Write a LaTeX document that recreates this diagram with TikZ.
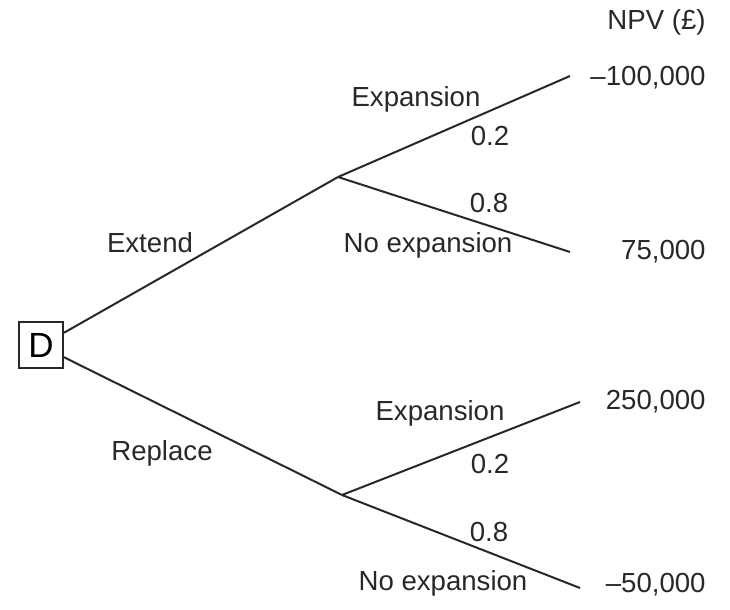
\documentclass[tikz,border=0pt]{standalone}
\usepackage{fontspec}
\setmainfont{Liberation Sans}
\usepackage{tikz}
\usetikzlibrary{positioning,calc}
\definecolor{lineclr}{RGB}{40,40,40}
\tikzset{
  decbox/.style={rectangle,draw=lineclr,line width=1pt,minimum width=22pt,
                 minimum height=23pt,inner sep=0pt,font=\fontsize{17.5}{19}\selectfont},
  branch/.style={draw=lineclr,line width=1pt},
  lbl/.style={inner sep=0pt,font=\fontsize{13.8}{16}\selectfont,text=lineclr},
  val/.style={lbl,anchor=east},
}

\begin{document}
\begin{tikzpicture}[x=0.5pt,y=-0.5pt]
\useasboundingbox (0,0) rectangle (730,610);
% decision node and chance points
\node[decbox] (D) at (41,345) {D};
\coordinate (c1) at (338,177);
\coordinate (c2) at (342,495);
\coordinate (e1) at (570,76);
\coordinate (e2) at (570,252);
\coordinate (e3) at (580,402);
\coordinate (e4) at (580,588);
% branches
\draw[branch] (D.28) -- (c1);
\draw[branch] (D.-28) -- (c2);
\draw[branch] (c1) -- (e1);
\draw[branch] (c1) -- (e2);
\draw[branch] (c2) -- (e3);
\draw[branch] (c2) -- (e4);
% branch labels
\node[lbl] (ext) at (150,243) {Extend};
\node[lbl] (rep) at (162,453) {Replace};
\node[lbl] (x1) at (416,99) {Expansion};
\node[lbl] (p1) at (490,136) {0.2};
\node[lbl] (p2) at (489,203) {0.8};
\node[lbl] (n1) at (428,245) {No expansion};
\node[lbl] (x2) at (440,413) {Expansion};
\node[lbl] (p3) at (490,464) {0.2};
\node[lbl] (p4) at (489,532) {0.8};
\node[lbl] (n2) at (443,583) {No expansion};
% payoffs
\node[val] (hd) at (706,22) {NPV (£)};
\node[val] (v1) at (706,78) {--100,000};
\node[val] (v2) at (706,252) {75,000};
\node[val] (v3) at (706,402) {250,000};
\node[val] (v4) at (706,585) {--50,000};
\end{tikzpicture}
\end{document}
